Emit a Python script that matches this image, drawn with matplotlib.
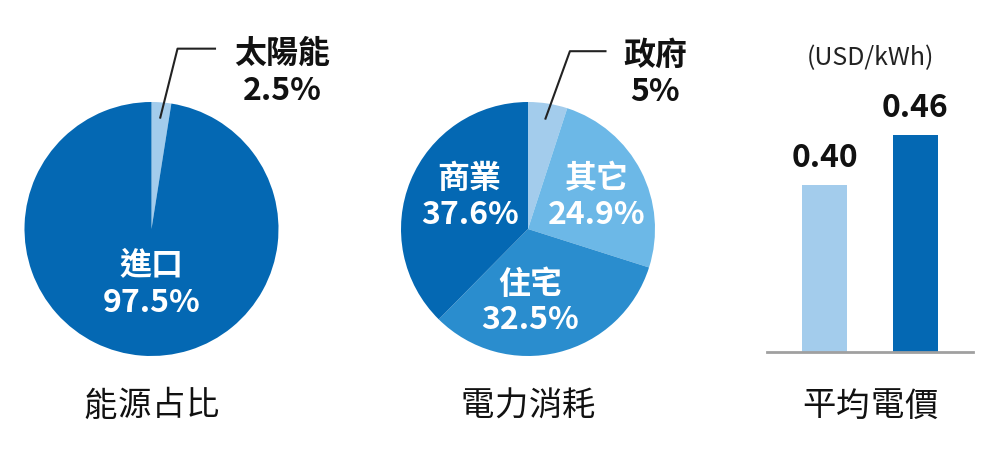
import numpy as np
import matplotlib.pyplot as plt

plt.rcParams['font.family'] = ['Noto Sans CJK TC', 'DejaVu Sans']

# data
energy_labels = ['太陽能', '進口']
energy_values = [2.5, 97.5]
power_labels = ['政府', '其它', '住宅', '商業']
power_values = [5, 24.9, 32.5, 37.6]
price_values = [0.40, 0.46]
titles = ['能源占比', '電力消耗', '平均電價']
unit = '(USD/kWh)'

c_dark = '#0468b3'
c_mid = '#2a8dce'
c_light = '#6cb8e7'
c_pale = '#a3ccec'

W, H = 1000, 452
fig = plt.figure(figsize=(W / 100, H / 100), dpi=100)


def pie_axes(cx, cy, r):
    ax = fig.add_axes([(cx - r) / W, (H - cy - r) / H, 2 * r / W, 2 * r / H])
    ax.axis('off')
    return ax


def leader(ax, wedge, elbow, end, text, text_xy):
    ang = np.deg2rad((wedge.theta1 + wedge.theta2) / 2)
    p = (0.88 * np.cos(ang), 0.88 * np.sin(ang))
    ax.plot([p[0], elbow[0], end[0]], [p[1], elbow[1], end[1]],
            color='#222222', lw=1.5, clip_on=False)
    ax.text(text_xy[0], text_xy[1], text, ha='center', va='center',
            fontsize=23, fontweight='bold', color='#111111',
            linespacing=1.2, clip_on=False)


# left pie
ax1 = pie_axes(151.5, 230, 127)
w1, _ = ax1.pie(energy_values, colors=[c_pale, c_dark], startangle=90,
                counterclock=False, radius=1,
                wedgeprops=dict(linewidth=0))
ax1.set_xlim(-1, 1)
ax1.set_ylim(-1, 1)
ax1.text(0, -0.43, f'{energy_labels[1]}\n{energy_values[1]}%', ha='center',
         va='center', color='white', fontsize=23, fontweight='bold', linespacing=1.2)
leader(ax1, w1[0], (0.205, 1.42), (0.50, 1.42),
       f'{energy_labels[0]}\n{energy_values[0]}%', (1.03, 1.24))

# middle pie
ax2 = pie_axes(528, 230, 127)
w2, _ = ax2.pie(power_values, colors=[c_pale, c_light, c_mid, c_dark],
                startangle=90, counterclock=False, radius=1,
                wedgeprops=dict(linewidth=0))
ax2.set_xlim(-1, 1)
ax2.set_ylim(-1, 1)
inner_pos = [None, (0.54, 0.26), (0.02, -0.57), (-0.46, 0.26)]
for lab, val, pos in zip(power_labels[1:], power_values[1:], inner_pos[1:]):
    ax2.text(pos[0], pos[1], f'{lab}\n{val}%', ha='center', va='center',
             color='white', fontsize=23, fontweight='bold', linespacing=1.15)
leader(ax2, w2[0], (0.33, 1.40), (0.61, 1.40),
       f'{power_labels[0]}\n{power_values[0]:g}%', (1.0, 1.23))

# bars
base_px, top_px = 353, 60
ax3 = fig.add_axes([767 / W, (H - base_px) / H, 206 / W, (base_px - top_px) / H])
ymin = 0.2
ax3.set_ylim(ymin, ymin + (base_px - top_px) / 833)
ax3.set_xlim(-0.632, 1.632)
x = np.arange(len(price_values))
bars = ax3.bar(x, np.array(price_values) - ymin, bottom=ymin, width=0.495,
               color=[c_pale, c_dark])
for b, v in zip(bars, price_values):
    ax3.annotate(f'{v:.2f}', (b.get_x() + b.get_width() / 2, v),
                 xytext=(0, 9), textcoords='offset points', ha='center',
                 va='bottom', fontsize=23, fontweight='bold', color='#111111')
for s in ['top', 'right', 'left']:
    ax3.spines[s].set_visible(False)
ax3.spines['bottom'].set_color('#a0a0a0')
ax3.spines['bottom'].set_linewidth(2)
ax3.set_xticks([])
ax3.set_yticks([])
ax3.patch.set_alpha(0)
fig.text(870 / W, 1 - 58 / H, unit, ha='center', va='center', fontsize=18,
         color='#222222')

# titles, slightly letter-spaced
for tx, t in zip([151.5, 528, 870], titles):
    n = len(t)
    for i, ch in enumerate(t):
        fig.text((tx + (i - (n - 1) / 2) * 34) / W, 1 - 406 / H, ch,
                 ha='center', va='center', fontsize=24, color='#111111')

fig.savefig('out.png', dpi=100)
